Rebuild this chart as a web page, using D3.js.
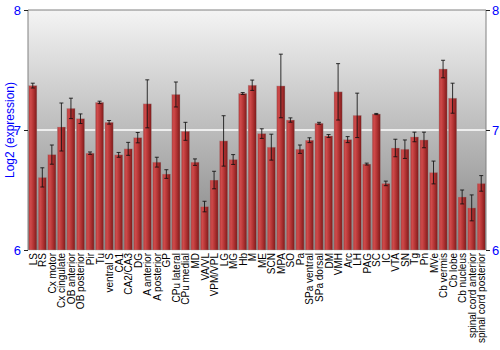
<!DOCTYPE html>
<html>
<head>
<meta charset="utf-8">
<script src="https://cdn.jsdelivr.net/npm/d3@7"></script>
<style>
  body { margin: 0; background: #fff; }
  text { font-family: "Liberation Sans", Arial, sans-serif; }
</style>
</head>
<body>
<svg id="chart"></svg>
<script>
var width = 500,
  height = 350;

var regions = ['LS', 'RS', 'Cx motor', 'Cx cingulate', 'OB anterior', 'OB posterior', 'Pir', 'Tu',
  'ventral S', 'CA1', 'CA2/CA3', 'DG', 'A anterior', 'A posterior', 'GP', 'CPu lateral', 'CPu medial',
  'MD', 'VA/VL', 'VPM/VPL', 'LG', 'MG', 'Hb', 'M', 'ME', 'SCN', 'MPA', 'SO', 'Pa', 'SPa ventral',
  'SPa dorsal', 'DM', 'VMH', 'Arc', 'LH', 'PAG', 'SC', 'IC', 'VTA', 'SN', 'Tg', 'Pn', 'MVe',
  'Cb vermis', 'Cb lobe', 'Cb nucleus', 'spinal cord anterior', 'spinal cord posterior'];

var expression = [7.37, 6.605, 6.795, 7.025, 7.18, 7.094, 6.807, 7.23,
  7.064, 6.793, 6.843, 6.936, 7.218, 6.732, 6.633, 7.296, 6.989,
  6.732, 6.362, 6.583, 6.909, 6.754, 7.304, 7.373, 6.97, 6.857, 7.367, 7.083, 6.84, 6.915,
  7.056, 6.95, 7.318, 6.92, 7.122, 6.716, 7.133, 6.555, 6.85, 6.84, 6.942, 6.917, 6.646,
  7.508, 7.265, 6.442, 6.351, 6.555];

var errors = [0.02, 0.08, 0.08, 0.2, 0.085, 0.04, 0.01, 0.01,
  0.015, 0.02, 0.054, 0.043, 0.2, 0.041, 0.036, 0.104, 0.075,
  0.027, 0.044, 0.073, 0.21, 0.041, 0.008, 0.043, 0.04, 0.108, 0.265, 0.018, 0.035, 0.02,
  0.008, 0.012, 0.235, 0.025, 0.185, 0.008, 0.005, 0.019, 0.073, 0.077, 0.04, 0.065, 0.095,
  0.073, 0.125, 0.058, 0.108, 0.065];

var yTicks = [6, 7, 8];

var margin = { top: 10, right: 14, bottom: 100, left: 28 };
var innerW = width - margin.left - margin.right,
  innerH = height - margin.top - margin.bottom;

var svg = d3.select('#chart')
  .attr('width', width)
  .attr('height', height);

var defs = svg.append('defs');

var bg = defs.append('linearGradient')
  .attr('id', 'bg')
  .attr('x1', 0).attr('y1', 0).attr('x2', 0).attr('y2', 1);
bg.append('stop').attr('offset', '0%').attr('stop-color', '#f4f4f4');
bg.append('stop').attr('offset', '100%').attr('stop-color', '#838383');

var barGrad = defs.append('linearGradient')
  .attr('id', 'bar')
  .attr('x1', 0).attr('y1', 0).attr('x2', 1).attr('y2', 0);
barGrad.append('stop').attr('offset', '0%').attr('stop-color', '#b23a3a');
barGrad.append('stop').attr('offset', '25%').attr('stop-color', '#cf4a4a');
barGrad.append('stop').attr('offset', '60%').attr('stop-color', '#b03232');
barGrad.append('stop').attr('offset', '100%').attr('stop-color', '#7c1a1a');

var x = d3.scaleBand()
  .domain(regions)
  .range([0, innerW])
  .paddingInner(0.14)
  .paddingOuter(0.07);

var y = d3.scaleLinear()
  .domain([6, 8])
  .range([innerH, 0]);

var g = svg.append('g')
  .attr('transform', 'translate(' + margin.left + ',' + margin.top + ')');

g.append('rect')
  .attr('width', innerW)
  .attr('height', innerH)
  .attr('fill', 'url(#bg)');

// white reference line at 7
g.append('line')
  .attr('x1', 0).attr('x2', innerW)
  .attr('y1', y(7)).attr('y2', y(7))
  .attr('stroke', '#fff')
  .attr('stroke-width', 1.5);

var data = regions.map(function(r, i) {
  return { name: r, value: expression[i], err: errors[i] };
});

g.selectAll('.bar')
  .data(data)
  .enter().append('rect')
  .attr('class', 'bar')
  .attr('x', function(d) { return x(d.name); })
  .attr('y', function(d) { return y(d.value); })
  .attr('width', x.bandwidth())
  .attr('height', function(d) { return innerH - y(d.value); })
  .attr('fill', 'url(#bar)')
  .attr('stroke', 'rgba(160,160,160,0.6)')
  .attr('stroke-width', 0.6);

var eb = g.selectAll('.err')
  .data(data)
  .enter().append('g')
  .attr('class', 'err')
  .attr('stroke', '#111')
  .attr('stroke-opacity', 0.85)
  .attr('stroke-width', 1);

eb.append('line')
  .attr('x1', function(d) { return x(d.name) + x.bandwidth() / 2; })
  .attr('x2', function(d) { return x(d.name) + x.bandwidth() / 2; })
  .attr('y1', function(d) { return y(d.value + d.err); })
  .attr('y2', function(d) { return y(d.value - d.err); });

eb.append('line')
  .attr('x1', function(d) { return x(d.name) + x.bandwidth() / 2 - 2; })
  .attr('x2', function(d) { return x(d.name) + x.bandwidth() / 2 + 2; })
  .attr('y1', function(d) { return y(d.value + d.err); })
  .attr('y2', function(d) { return y(d.value + d.err); });

eb.append('line')
  .attr('x1', function(d) { return x(d.name) + x.bandwidth() / 2 - 2; })
  .attr('x2', function(d) { return x(d.name) + x.bandwidth() / 2 + 2; })
  .attr('y1', function(d) { return y(d.value - d.err); })
  .attr('y2', function(d) { return y(d.value - d.err); });

// frame: left, top, right
g.append('path')
  .attr('d', 'M0,' + innerH + 'V0H' + innerW + 'V' + innerH)
  .attr('fill', 'none')
  .attr('stroke', '#808080')
  .attr('stroke-width', 1);

var leftAxis = g.append('g')
  .call(d3.axisLeft(y).tickValues(yTicks).tickSize(4).tickPadding(3).tickFormat(d3.format('d')));
leftAxis.select('.domain').remove();
leftAxis.selectAll('line').attr('stroke', '#222');
leftAxis.selectAll('text').attr('fill', '#0000ff').style('font-size', '13px');

var rightAxis = g.append('g')
  .attr('transform', 'translate(' + innerW + ',0)')
  .call(d3.axisRight(y).tickValues(yTicks).tickSize(4).tickPadding(2).tickFormat(d3.format('d')));
rightAxis.select('.domain').remove();
rightAxis.selectAll('line').attr('stroke', '#222');
rightAxis.selectAll('text').attr('fill', '#0000ff').style('font-size', '13px');

// category labels
g.selectAll('.cat')
  .data(regions)
  .enter().append('text')
  .attr('class', 'cat')
  .attr('transform', function(d) {
    return 'translate(' + (x(d) + x.bandwidth() / 2 + 4) + ',' + (innerH + 3) + ')rotate(-90)';
  })
  .attr('text-anchor', 'end')
  .attr('fill', '#000')
  .style('font-size', '10px')
  .text(function(d) { return d; });

svg.append('text')
  .attr('transform', 'translate(14,' + (margin.top + innerH / 2) + ')rotate(-90)')
  .attr('text-anchor', 'middle')
  .attr('fill', '#0000ff')
  .style('font-size', '12px')
  .text('Log2 (expression)');
</script>
</body>
</html>
